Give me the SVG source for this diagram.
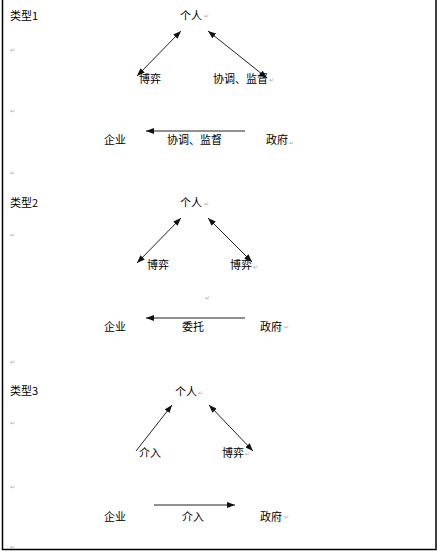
<svg xmlns="http://www.w3.org/2000/svg" width="438" height="551" viewBox="0 0 438 551">
<style>
.t{font-family:"Noto Sans CJK SC","Liberation Sans",sans-serif;font-size:11px;fill:#000}
.m{font-family:"DejaVu Sans",sans-serif;font-size:6px;fill:#aaa}
.c{stroke:#222;stroke-width:1;fill:none}
</style>
<defs>
<marker id="ah" viewBox="0 0 8 6" refX="8" refY="3" markerWidth="8" markerHeight="6" markerUnits="userSpaceOnUse" orient="auto-start-reverse">
<path d="M0,0 L8,3 L0,6 z" fill="#111"/>
</marker>
</defs>
<rect width="438" height="551" fill="#fff"/>
<path d="M2.5,0 V549.5 H436 V0" fill="none" stroke="#000" stroke-width="1.5"/>

<g id="connectors">
<line class="c" x1="181" y1="31" x2="137" y2="76" marker-start="url(#ah)" marker-end="url(#ah)"/>
<line class="c" x1="208" y1="31" x2="267" y2="78" marker-start="url(#ah)" marker-end="url(#ah)"/>
<line class="c" x1="245" y1="131" x2="146" y2="131" marker-end="url(#ah)"/>
<line class="c" x1="181" y1="218" x2="137" y2="263" marker-start="url(#ah)" marker-end="url(#ah)"/>
<line class="c" x1="208" y1="218" x2="252" y2="262" marker-start="url(#ah)" marker-end="url(#ah)"/>
<line class="c" x1="245" y1="318" x2="146" y2="318" marker-end="url(#ah)"/>
<line class="c" x1="136" y1="451" x2="172" y2="405" marker-end="url(#ah)"/>
<line class="c" x1="209" y1="405" x2="253" y2="451" marker-start="url(#ah)" marker-end="url(#ah)"/>
<line class="c" x1="154" y1="505" x2="235" y2="505" marker-end="url(#ah)"/>
</g>

<g id="type1">
<text class="t" x="10" y="19.5">类型1</text>
<text class="m" x="10" y="52">↵</text>
<text class="m" x="10" y="113">↵</text>
<text class="m" x="10" y="175">↵</text>
<g id="t1-person"><text class="t" x="180" y="20">个人</text><text class="m" x="204" y="18">↵</text></g>
<g id="t1-game"><text class="t" x="139" y="83">博弈</text></g>
<g id="t1-coord"><text class="t" x="213" y="83">协调、监督</text><text class="m" x="269" y="82">↵</text></g>
<g id="t1-firm"><text class="t" x="104" y="144">企业</text></g>
<g id="t1-label"><text class="t" x="167" y="144">协调、监督</text></g>
<g id="t1-gov"><text class="t" x="266" y="144">政府</text><text class="m" x="289" y="145">↵</text></g>
</g>

<g id="type2">
<text class="t" x="10" y="207">类型2</text>
<text class="m" x="10" y="237">↵</text>
<text class="m" x="10" y="364">↵</text>
<text class="m" x="205" y="300">↵</text>
<g id="t2-person"><text class="t" x="180" y="207">个人</text><text class="m" x="204" y="206">↵</text></g>
<g id="t2-game-l"><text class="t" x="147" y="269">博弈</text></g>
<g id="t2-game-r"><text class="t" x="230" y="269">博弈</text><text class="m" x="253" y="269">↵</text></g>
<g id="t2-firm"><text class="t" x="104" y="331">企业</text></g>
<g id="t2-label"><text class="t" x="182" y="331">委托</text></g>
<g id="t2-gov"><text class="t" x="260" y="331">政府</text><text class="m" x="284" y="329">↵</text></g>
</g>

<g id="type3">
<text class="t" x="10" y="395">类型3</text>
<text class="m" x="10" y="425">↵</text>
<text class="m" x="10" y="489">↵</text>
<text class="m" x="10" y="549">↵</text>
<g id="t3-person"><text class="t" x="175" y="396">个人</text><text class="m" x="198" y="395">↵</text></g>
<g id="t3-intervene"><text class="t" x="139" y="457">介入</text></g>
<g id="t3-game"><text class="t" x="222" y="457">博弈</text><text class="m" x="245" y="456">↵</text></g>
<g id="t3-firm"><text class="t" x="104" y="521">企业</text></g>
<g id="t3-label"><text class="t" x="182" y="521">介入</text></g>
<g id="t3-gov"><text class="t" x="260" y="521">政府</text><text class="m" x="284" y="519">↵</text></g>
</g>
</svg>
